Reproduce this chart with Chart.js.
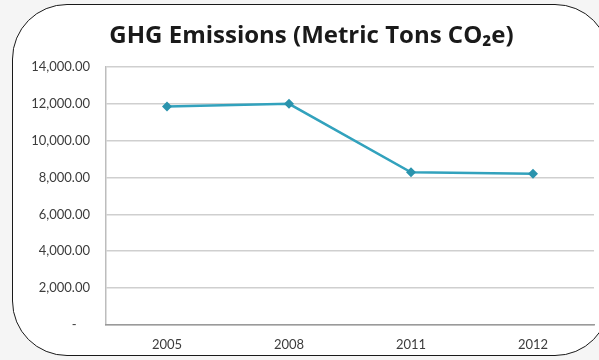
<!DOCTYPE html>
<html>
<head>
<meta charset="utf-8">
<script src="https://cdn.jsdelivr.net/npm/chart.js@4.4.1/dist/chart.umd.min.js"></script>
<style>
  html, body {
    margin: 0;
    padding: 0;
    background: #f5f5f5;
    overflow: hidden;
  }
  #frame {
    position: absolute;
    left: 12px;
    top: 4px;
    width: 598px;
    height: 352px;
    background: #ffffff;
    border: 1.5px solid #1a1a1a;
    border-radius: 55px;
    box-sizing: border-box;
  }
  #wrap {
    position: absolute;
    left: 0;
    top: 0;
    width: 599px;
    height: 360px;
  }
</style>
</head>
<body>
<div id="frame"></div>
<div id="wrap"><canvas id="ghgChart"></canvas></div>
<script>
const years = ["2005", "2008", "2011", "2012"];
const emissions = [11850, 11990, 8280, 8200];
const yTicks = [0, 2000, 4000, 6000, 8000, 10000, 12000, 14000];

function formatTick(value) {
  // Excel accounting style: zero shows as a dash
  if (value === 0) return "-    ";
  return value.toLocaleString("en-US", { minimumFractionDigits: 2, maximumFractionDigits: 2 });
}

function initChart() {
  const ctx = document.getElementById("ghgChart").getContext("2d");
  new Chart(ctx, {
    type: "line",
    data: {
      labels: years,
      datasets: [
        {
          label: "GHG Emissions",
          data: emissions,
          borderColor: "#32a2bd",
          backgroundColor: "#2a93ad",
          borderWidth: 2.5,
          tension: 0,
          fill: false,
          pointStyle: "rectRot",
          pointRadius: 5,
          pointBorderWidth: 0,
        },
      ],
    },
    options: {
      responsive: true,
      maintainAspectRatio: false,
      animation: false,
      layout: {
        padding: { left: 26, right: 2, top: 0, bottom: 0 },
      },
      scales: {
        y: {
          min: 0,
          max: 14000,
          afterFit: (scale) => { scale.width = 80; },
          afterBuildTicks: (scale) => {
            scale.ticks = yTicks.map((v) => ({ value: v }));
          },
          ticks: {
            padding: 16,
            color: "#3c3c3c",
            font: { family: "Lato", size: 13 },
            callback: (value) => formatTick(value),
          },
          grid: {
            color: "#cfcfcf",
            lineWidth: 1.5,
            drawTicks: false,
          },
          border: {
            display: true,
            color: "#bdbdbd",
            width: 1.5,
          },
        },
        x: {
          offset: true,
          afterFit: (scale) => { scale.height = 35; },
          ticks: {
            padding: 12,
            color: "#3c3c3c",
            font: { family: "Lato", size: 13 },
          },
          grid: {
            display: false,
            drawTicks: false,
          },
          border: {
            display: true,
            color: "#9a9a9a",
            width: 1.5,
          },
        },
      },
      plugins: {
        legend: {
          display: false,
        },
        tooltip: {
          enabled: false,
        },
        title: {
          display: true,
          text: "GHG Emissions (Metric Tons CO\u2082e)",
          color: "#1a1a1a",
          font: { family: "Open Sans", size: 24, weight: "bold" },
          padding: { top: 22, bottom: 16 },
        },
      },
    },
  });
}

window.onload = () => {
  initChart();
};
</script>
</body>
</html>
